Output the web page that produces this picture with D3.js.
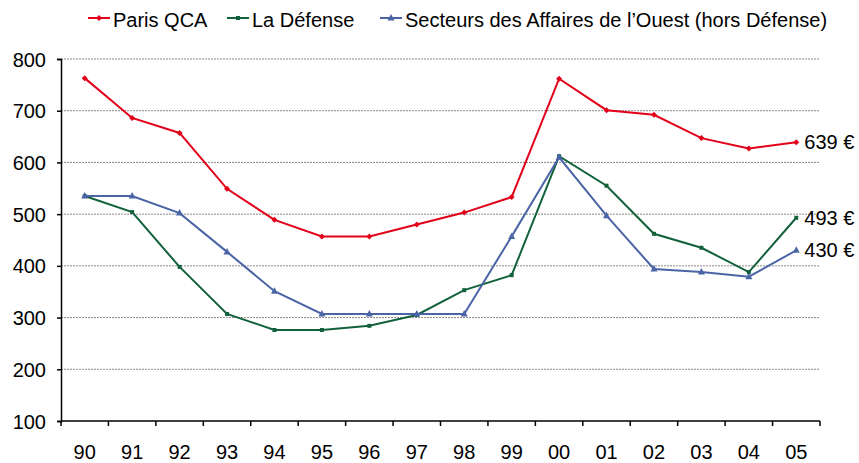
<!DOCTYPE html>
<html>
<head>
<meta charset="utf-8">
<script src="https://cdn.jsdelivr.net/npm/d3@7"></script>
<style>
  body { margin: 0; background: #fff; }
  text { font-family: "Liberation Sans", Arial, sans-serif; fill: #000; }
</style>
</head>
<body>
<svg width="859" height="463"></svg>
<script>
const years = ['90', '91', '92', '93', '94', '95', '96', '97', '98', '99', '00', '01', '02', '03', '04', '05'];
const parisQCA = [763, 686, 657, 549, 489, 457, 457, 480, 503, 533, 762, 701, 692, 647, 627, 639];
const laDefense = [535, 504, 398, 307, 276, 276, 284, 305, 353, 382, 612, 555, 462, 435, 388, 493];
const secteursOuest = [535, 535, 502, 427, 351, 307, 307, 307, 307, 457, 610, 497, 394, 388, 379, 430];
const yTicks = [100, 200, 300, 400, 500, 600, 700, 800];

const series = [
  { name: 'Paris QCA', values: parisQCA, color: '#e2001a', marker: 'diamond', label: '639 €' },
  { name: 'La Défense', values: laDefense, color: '#12613a', marker: 'dash', label: '493 €' },
  { name: 'Secteurs des Affaires de l\u2019Ouest (hors Défense)', values: secteursOuest, color: '#4a64a6', marker: 'triangle', label: '430 €' },
];

const svg = d3.select('svg');
const plotLeft = 61, plotRight = 820, plotTop = 59, plotBottom = 421;

const x = d3.scaleBand().domain(years).range([plotLeft, plotRight]);
const y = d3.scaleLinear().domain([100, 800]).range([plotBottom, plotTop]);

// grid
svg.append('g')
  .selectAll('line')
  .data(yTicks.filter(d => d > 100))
  .enter().append('line')
  .attr('x1', plotLeft).attr('x2', plotRight)
  .attr('y1', d => y(d)).attr('y2', d => y(d))
  .attr('stroke', '#8a8a8a')
  .attr('stroke-width', 1)
  .attr('stroke-dasharray', '2,1');

// axes
const yAxis = svg.append('g')
  .attr('transform', `translate(${plotLeft},0)`)
  .call(d3.axisLeft(y).tickValues(yTicks).tickSize(4).tickPadding(11));
yAxis.select('.domain').attr('stroke', '#000').attr('stroke-width', 1.5);
yAxis.selectAll('.tick line').attr('stroke', '#000').attr('stroke-width', 1.5);
yAxis.selectAll('text').style('font-size', '20px').attr('dy', '0.35em');

const xAxis = svg.append('g')
  .attr('transform', `translate(0,${plotBottom})`);
xAxis.append('line')
  .attr('x1', plotLeft).attr('x2', plotRight)
  .attr('stroke', '#000').attr('stroke-width', 1.5);
xAxis.selectAll('line.tk')
  .data(years.concat(['end']))
  .enter().append('line')
  .attr('class', 'tk')
  .attr('x1', (d, i) => plotLeft + i * x.step())
  .attr('x2', (d, i) => plotLeft + i * x.step())
  .attr('y1', 0).attr('y2', 5)
  .attr('stroke', '#000').attr('stroke-width', 1.5);
xAxis.selectAll('text')
  .data(years)
  .enter().append('text')
  .attr('x', d => x(d) + x.bandwidth() / 2)
  .attr('y', 38)
  .attr('text-anchor', 'middle')
  .style('font-size', '20px')
  .text(d => d);

const line = d3.line()
  .x((d, i) => x(years[i]) + x.bandwidth() / 2)
  .y(d => y(d));

function drawMarker(g, type, color) {
  if (type === 'diamond') {
    g.append('path').attr('d', 'M0,-3L3,0L0,3L-3,0Z').attr('fill', color);
  } else if (type === 'dash') {
    g.append('rect').attr('x', -2).attr('y', -2).attr('width', 4).attr('height', 4).attr('fill', color);
  } else {
    g.append('path').attr('d', 'M0,-4L3.5,2.5L-3.5,2.5Z').attr('fill', color);
  }
}

series.forEach((s) => {
  svg.append('path')
    .datum(s.values)
    .attr('d', line)
    .attr('fill', 'none')
    .attr('stroke', s.color)
    .attr('stroke-width', 2);
  svg.append('g')
    .selectAll('g')
    .data(s.values)
    .enter().append('g')
    .attr('transform', (d, i) => `translate(${x(years[i]) + x.bandwidth() / 2},${y(d)})`)
    .each(function () { drawMarker(d3.select(this), s.marker, s.color); });
  const last = s.values[s.values.length - 1];
  svg.append('text')
    .attr('x', x(years[years.length - 1]) + x.bandwidth() / 2 + 8)
    .attr('y', y(last))
    .attr('dy', '0.35em')
    .style('font-size', '20px')
    .text(s.label);
});

// legend
const legendX = [88, 227, 380];
const legend = svg.append('g');
series.forEach((s, i) => {
  const g = legend.append('g').attr('transform', `translate(${legendX[i]},18)`);
  g.append('line').attr('x1', 0).attr('x2', 22).attr('stroke', s.color).attr('stroke-width', 2);
  drawMarker(g.append('g').attr('transform', 'translate(11,0)'), s.marker, s.color);
  g.append('text')
    .attr('x', 25).attr('y', 9)
    .style('font-size', '20px')
    .text(s.name);
});
</script>
</body>
</html>
